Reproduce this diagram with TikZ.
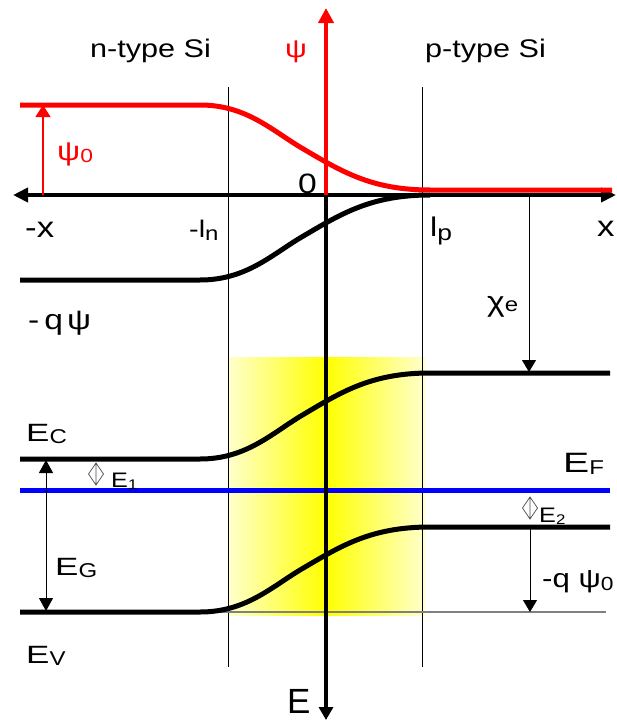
\documentclass[tikz,border=0pt]{standalone}
\usepackage{fontspec}
\setmainfont{Liberation Sans}
\newfontfamily\fS[FakeStretch=1.2]{Liberation Sans}
\newfontfamily\fE[FakeStretch=1.4]{Liberation Sans}
\newfontfamily\fN{Liberation Sans}
\newcommand\myfs[1]{\fontsize{#1}{#1}\selectfont}
\newcommand\sub[3]{\raisebox{-#2pt}{\myfs{#1}#3}}
\usetikzlibrary{arrows.meta}
\definecolor{pale}{RGB}{255,255,205}
\tikzset{
  lab/.style={inner sep=0pt, anchor=base west},
  thick band/.style={line width=5pt, line join=round},
  thin line/.style={line width=1pt},
  tip/.style={-{Triangle[width=14pt,length=12pt]}},
}
\begin{document}
\begin{tikzpicture}[x=1pt,y=-1pt]
\useasboundingbox (0,0) rectangle (616,720);
% yellow depletion region
\shade[left color=pale, right color=yellow] (228,357) rectangle (326,615);
\shade[left color=yellow, right color=pale] (326,357) rectangle (425,615);
% coordinates
\coordinate (lnT) at (228,87); \coordinate (lnB) at (228,667);
\coordinate (lpT) at (422,87); \coordinate (lpB) at (422,667);
\coordinate (axL) at (13,195); \coordinate (axR) at (616,195);
\coordinate (O) at (326,195);
\coordinate (psiTop) at (326,8);
\coordinate (Ebot) at (326,720);
\coordinate (gL) at (201,612); \coordinate (gR) at (606,612);
\coordinate (fL) at (20,490); \coordinate (fR) at (610,490);
% thin boundary lines
\draw[thin line] (lnT) -- (lnB);
\draw[thin line] (lpT) -- (lpB);
% gray reference line
\draw[line width=1.5pt, gray] (gL) -- (gR);
% Fermi level
\draw[line width=5pt, blue] (fL) -- (fR);
% bands
\draw[thick band] (20,459) -- (200,459) .. controls (245,459) and (270,434.9) .. (300,416.5) .. controls (340,392.8) and (370,373) .. (430,373) -- (610,373);
\draw[thick band] (20,612) -- (200,612) .. controls (245,612) and (270,588.2) .. (300,570) .. controls (340,546.5) and (370,527) .. (430,527) -- (610,527);
% -q psi curve
\draw[thick band] (20,280) -- (200,280) .. controls (245,280) and (270,256.2) .. (300,238) .. controls (340,214.5) and (370,195) .. (430,195);
% x axis
\draw[line width=4.5pt, {Triangle[width=14pt,length=15pt]}-{Triangle[width=14pt,length=15pt]}] (axL) -- (axR);
% E axis
\draw[line width=4pt, -{Triangle[width=14pt,length=13pt]}] (O) -- (Ebot);
% psi curve and axis
\draw[thick band, red] (20,105) -- (200,105) .. controls (245,105) and (270,128.8) .. (300,147) .. controls (340,170.5) and (370,190) .. (430,190) -- (612,190);
\draw[line width=4.5pt, red, -{Triangle[width=15pt,length=15pt]}] (O) -- (psiTop);
% psi0 arrow
\coordinate (p0a) at (43,195); \coordinate (p0b) at (43,105);
\draw[line width=1.2pt, red, -{Triangle[width=15pt,length=12pt]}] (p0a) -- (p0b);
% EG arrow
\coordinate (gA) at (46,460); \coordinate (gB) at (46,611);
\draw[thin line, {Triangle[width=14pt,length=13pt]}-{Triangle[width=14pt,length=13pt]}] (gA) -- (gB);
% chi arrow
\coordinate (cA) at (529,197); \coordinate (cB) at (529,372);
\draw[thin line, tip] (cA) -- (cB);
% -q psi0 arrow
\coordinate (qA) at (530,528); \coordinate (qB) at (530,612);
\draw[thin line, tip] (qA) -- (qB);
% Delta markers
\draw[line width=0.7pt, black!70] (96,463) -- (103.5,474) -- (96,485) -- (88.5,474) -- cycle (96,463) -- (96,485);
\draw[line width=0.7pt, black!70] (530,497) -- (537.5,508) -- (530,519) -- (522.5,508) -- cycle (530,497) -- (530,519);
% labels
\node[lab] (ntype) at (90,57) {\fS\myfs{25.5}n-type Si};
\node[lab] (ptype) at (425,57) {\fS\myfs{25.5}p-type Si};
\node[lab, red] (psi) at (285,57) {\fS\myfs{25.5}ψ};
\node[lab] (zero) at (298,193) {\fS\myfs{28}0};
\node[lab] (mx) at (25,237) {\fS\myfs{29}-x};
\node[lab] (mln) at (189,237) {\fS\myfs{24}-l\sub{20}{3}{n}};
\node[lab] (lp) at (430,236) {\fS\myfs{27}l\sub{22}{4}{p}};
\node[lab] (xx) at (597,236) {\fS\myfs{29}x};
\node[lab] (mqpsi) at (28,329) {\fS\myfs{28}-\hspace{5pt}q\hspace{4pt}ψ};
\node[lab, red] (psi0) at (57,160) {\fS\myfs{27}ψ\sub{19}{2}{0}};
\node[lab] (chi) at (487,311) {\fS\myfs{28}χ\sub{20}{0}{e}};
\node[lab] (EC) at (26,441) {\fE\myfs{25}E\sub{20}{2}{\fS C}};
\node[lab] (EV) at (26,663) {\fE\myfs{25}E\sub{20}{2}{\fS V}};
\node[lab] (EG) at (55,575) {\fE\myfs{25}E\sub{20}{2}{\fS G}};
\node[lab] (EF) at (563,472) {\fE\myfs{28}E\sub{20}{2}{\fS F}};
\node[lab] (E1) at (111,487) {\fS\myfs{21}E\sub{14}{2}{1}};
\node[lab] (E2) at (539,522) {\fS\myfs{21}E\sub{14}{2}{2}};
\node[lab] (mqpsi0) at (542,587) {\fS\myfs{26}-q ψ\sub{19}{3}{0}};
\node[lab] (E) at (287,713) {\fN\myfs{35}E};
\end{tikzpicture}
\end{document}
